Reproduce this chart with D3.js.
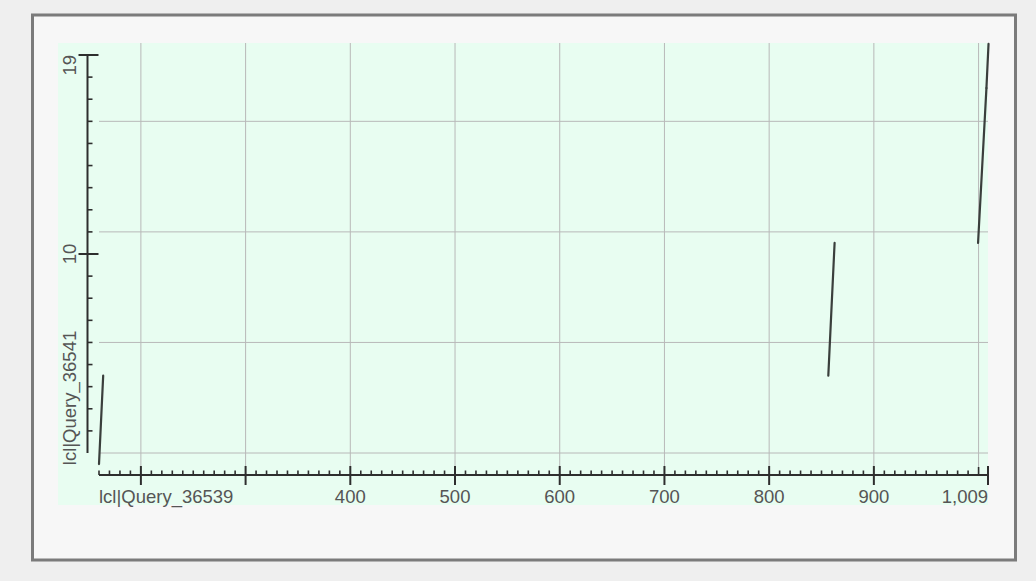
<!DOCTYPE html>
<html>
<head>
<meta charset="utf-8">
<script src="https://cdn.jsdelivr.net/npm/d3@7"></script>
<style>
  html, body { margin: 0; padding: 0; background: #efefef; }
  svg { display: block; }
</style>
</head>
<body>
<svg id="chart" width="1036" height="581"></svg>
<script>
// Dot plot of two query sequences: each segment is an aligned region
const queryLabel = "lcl|Query_36539";
const subjectLabel = "lcl|Query_36541";
const xDomain = [160, 1009];
const yDomain = [1, 19];

// Aligned segments: [queryStart, subjectStart, queryEnd, subjectEnd]
const segStartX = [160, 856.5, 999.5, 1007.5];
const segStartY = [0.5, 4.5, 10.5, 17.5];
const segEndX   = [164, 862.5, 1007.5, 1009.5];
const segEndY   = [4.5, 10.5, 17.5, 19.5];

// Axis ticks and grid
const xMajorTicks = [200, 300, 400, 500, 600, 700, 800, 900];
const xTickLabels = ["", "", "400", "500", "600", "700", "800", "900"];
const xGrid = [200, 300, 400, 500, 600, 700, 800, 900, 1000];
const yMajorTicks = [10];
const yTickLabels = ["10"];
const yGrid = [1, 6, 11, 16];

const svg = d3.select("#chart");

// Panel with frame
svg.append("rect").attr("x", 32.5).attr("y", 15).attr("width", 983).attr("height", 545)
  .attr("fill", "#f7f7f7").attr("stroke", "#7b7b7b").attr("stroke-width", 3);

// Plot background
svg.append("rect").attr("x", 58).attr("y", 43).attr("width", 930).attr("height", 462)
  .attr("fill", "#e8fdf1");

const x = d3.scaleLinear().domain(xDomain).range([99, 988]);
const y = d3.scaleLinear().domain(yDomain).range([453, 55]);
const axisY = 475, axisX = 87.5;

// Grid
svg.append("g").selectAll("line").data(xGrid).join("line")
  .attr("x1", d => x(d)).attr("x2", d => x(d))
  .attr("y1", 43).attr("y2", axisY)
  .attr("stroke", "#b8b8b8").attr("stroke-width", 1);
svg.append("g").selectAll("line").data(yGrid).join("line")
  .attr("x1", x(xDomain[0])).attr("x2", x(xDomain[1]))
  .attr("y1", d => y(d)).attr("y2", d => y(d))
  .attr("stroke", "#b8b8b8").attr("stroke-width", 1);

const axisColor = "#2e2e2e";
const labelColor = "#555";
const font = "'Liberation Sans', Arial, sans-serif";
const fs = 18.5;

// X axis
const gx = svg.append("g");
gx.append("line").attr("x1", x(xDomain[0])).attr("x2", x(xDomain[1]))
  .attr("y1", axisY).attr("y2", axisY).attr("stroke", axisColor).attr("stroke-width", 2);
const xMinor = d3.range(xDomain[0], xDomain[1] + 1, 10).filter(v => !xMajorTicks.includes(v));
gx.selectAll("line.minor").data(xMinor).join("line").attr("class", "minor")
  .attr("x1", d => x(d)).attr("x2", d => x(d))
  .attr("y1", axisY).attr("y2", d => d % 100 === 0 ? axisY - 8 : axisY - 4.5)
  .attr("stroke", axisColor).attr("stroke-width", 1.6);
gx.selectAll("line.major").data(xMajorTicks.concat([xDomain[1]])).join("line").attr("class", "major")
  .attr("x1", d => x(d)).attr("x2", d => x(d))
  .attr("y1", axisY - 9).attr("y2", axisY + 10)
  .attr("stroke", axisColor).attr("stroke-width", 2);
gx.selectAll("text.tick").data(xMajorTicks).join("text").attr("class", "tick")
  .attr("x", d => x(d)).attr("y", 503)
  .attr("text-anchor", "middle")
  .attr("font-family", font).attr("font-size", fs).attr("fill", labelColor)
  .text((d, i) => xTickLabels[i]);
gx.append("text").attr("x", x(xDomain[1])).attr("y", 503).attr("text-anchor", "end")
  .attr("font-family", font).attr("font-size", fs).attr("fill", labelColor)
  .text(d3.format(",")(xDomain[1]));
gx.append("text").attr("x", x(xDomain[0])).attr("y", 503).attr("text-anchor", "start")
  .attr("font-family", font).attr("font-size", fs).attr("fill", labelColor)
  .text(queryLabel);

// Y axis
const gy = svg.append("g");
gy.append("line").attr("x1", axisX).attr("x2", axisX)
  .attr("y1", y(yDomain[1])).attr("y2", y(yDomain[0]))
  .attr("stroke", axisColor).attr("stroke-width", 2);
const yMinor = d3.range(yDomain[0] + 1, yDomain[1], 1).filter(v => !yMajorTicks.includes(v));
gy.selectAll("line.minor").data(yMinor).join("line").attr("class", "minor")
  .attr("x1", axisX).attr("x2", axisX + 5)
  .attr("y1", d => y(d)).attr("y2", d => y(d))
  .attr("stroke", axisColor).attr("stroke-width", 1.6);
gy.selectAll("line.major").data(yMajorTicks.concat([yDomain[1]])).join("line").attr("class", "major")
  .attr("x1", axisX - 9).attr("x2", axisX + 11)
  .attr("y1", d => y(d)).attr("y2", d => y(d))
  .attr("stroke", axisColor).attr("stroke-width", 2);
gy.selectAll("text.tick").data(yMajorTicks).join("text").attr("class", "tick")
  .attr("transform", d => `translate(76,${y(d)}) rotate(-90)`)
  .attr("text-anchor", "middle")
  .attr("font-family", font).attr("font-size", fs).attr("fill", labelColor)
  .text((d, i) => yTickLabels[i]);
gy.append("text").attr("transform", `translate(76,${y(yDomain[1])}) rotate(-90)`)
  .attr("text-anchor", "end")
  .attr("font-family", font).attr("font-size", fs).attr("fill", labelColor)
  .text(yDomain[1]);
gy.append("text").attr("transform", `translate(76,${y(0.45)}) rotate(-90)`)
  .attr("text-anchor", "start")
  .attr("font-family", font).attr("font-size", fs).attr("fill", labelColor)
  .text(subjectLabel);

// Alignment segments
const segs = segStartX.map((d, i) => ({ x1: d, y1: segStartY[i], x2: segEndX[i], y2: segEndY[i] }));
svg.append("g").selectAll("line").data(segs).join("line")
  .attr("x1", d => x(d.x1)).attr("y1", d => y(d.y1))
  .attr("x2", d => x(d.x2)).attr("y2", d => y(d.y2))
  .attr("stroke", "#3a3f3c").attr("stroke-width", 2.2).attr("stroke-linecap", "round");
</script>
</body>
</html>
